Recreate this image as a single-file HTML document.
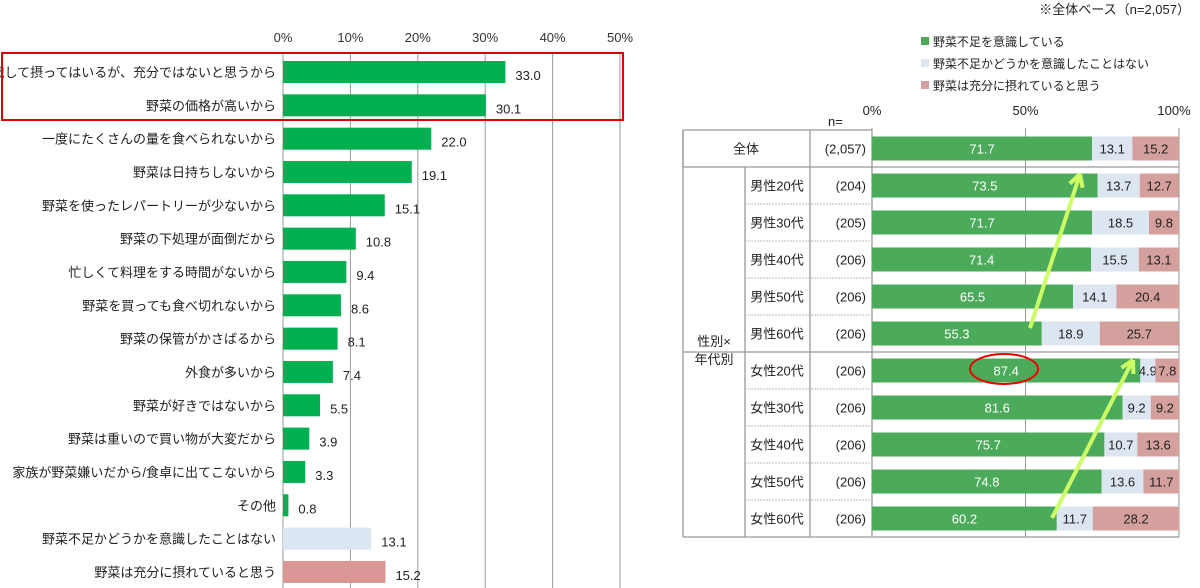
<!DOCTYPE html>
<html><head><meta charset="utf-8"><style>
body{margin:0;background:#fff;font-family:"Liberation Sans","Noto Sans CJK JP",sans-serif;}
svg{display:block}
text{font-family:"Liberation Sans","Noto Sans CJK JP",sans-serif;}
</style></head><body>
<svg width="1200" height="588" xmlns="http://www.w3.org/2000/svg">
<g id="left"></g>
<g id="right"></g>
</svg>
<script>
const leftCats=["意識して摂ってはいるが、充分ではないと思うから","野菜の価格が高いから","一度にたくさんの量を食べられないから","野菜は日持ちしないから","野菜を使ったレパートリーが少ないから","野菜の下処理が面倒だから","忙しくて料理をする時間がないから","野菜を買っても食べ切れないから","野菜の保管がかさばるから","外食が多いから","野菜が好きではないから","野菜は重いので買い物が大変だから","家族が野菜嫌いだから/食卓に出てこないから","その他","野菜不足かどうかを意識したことはない","野菜は充分に摂れていると思う"];
const leftVals=[33.0,30.1,22.0,19.1,15.1,10.8,9.4,8.6,8.1,7.4,5.5,3.9,3.3,0.8,13.1,15.2];
const leftTicks=[0,10,20,30,40,50];
const rowLabels=["全体","男性20代","男性30代","男性40代","男性50代","男性60代","女性20代","女性30代","女性40代","女性50代","女性60代"];
const rowN=["(2,057)","(204)","(205)","(206)","(206)","(206)","(206)","(206)","(206)","(206)","(206)"];
const aware=[71.7,73.5,71.7,71.4,65.5,55.3,87.4,81.6,75.7,74.8,60.2];
const never=[13.1,13.7,18.5,15.5,14.1,18.9,4.9,9.2,10.7,13.6,11.7];
const enough=[15.2,12.7,9.8,13.1,20.4,25.7,7.8,9.2,13.6,11.7,28.2];
const rightTicks=[0,50,100];
const NS="http://www.w3.org/2000/svg";
function mk(p,t,a,txt){const e=document.createElementNS(NS,t);for(const k in a)e.setAttribute(k,a[k]);if(txt!==undefined)e.textContent=txt;p.appendChild(e);return e;}
// left
const L=document.getElementById('left');
const lx=v=>283+v*6.74, ly=i=>72+i*33.33;
leftTicks.forEach(t=>{
 let g=mk(L,'line',{x1:lx(t),x2:lx(t),y1:53,y2:588,stroke:'#999','stroke-width':1});
 
 
 let tx=mk(L,'text',{x:lx(t),y:42,'font-size':13,'text-anchor':'middle',fill:'#333'},t+'%');
 
 
});
leftCats.forEach((c,i)=>{
 const col=i<14?'#00b050':(i==14?'#dce6f2':'#d99694');
 let b=mk(L,'rect',{x:lx(0),y:ly(i)-11,width:lx(leftVals[i])-lx(0),height:22,fill:col});
 
 
 let lb=mk(L,'text',{x:276,y:ly(i)+5,'font-size':13,'text-anchor':'end',fill:'#222'},c);
 
 
 let v=mk(L,'text',{x:lx(leftVals[i])+10,y:ly(i)+8,'font-size':13,fill:'#222'},leftVals[i].toFixed(1));
 
 
});
let rb=mk(L,'rect',{x:2,y:53,width:621,height:67,fill:'none',stroke:'#d00','stroke-width':2});


// right
const R=document.getElementById('right');
const rx=v=>872+v*3.07;
const rowTop=i=>i==0?130:167+(i-1)*37, rowH=i=>i==0?37:37;
let note=mk(R,'text',{x:1190,y:14,'font-size':13,'text-anchor':'end',fill:'#222'},'※全体ベース（n=2,057）');


const legItems=[["野菜不足を意識している",'#4cab5a'],["野菜不足かどうかを意識したことはない",'#dce6f0'],["野菜は充分に摂れていると思う",'#d4a09d']];
legItems.forEach((it,i)=>{
 let s=mk(R,'rect',{x:921,y:37+i*22,width:8,height:8,fill:it[1]});
 
 
 let t=mk(R,'text',{x:933,y:46+i*22,'font-size':12,fill:'#222'},it[0]);
 
 
});
let nl=mk(R,'text',{x:828,y:126,'font-size':13,fill:'#222'},'n=');


rightTicks.forEach(t=>{
 let g=mk(R,'line',{x1:rx(t),x2:rx(t),y1:128,y2:537,stroke:'#999','stroke-width':1});
 
 
 let tx=mk(R,'text',{x:rx(t)+(t==100?-5:0),y:115,'font-size':13,'text-anchor':'middle',fill:'#222'},t+'%');
 
 
});
// table lines
[[683,130,872,130],[683,167,1179,167],[683,352,1179,352],[683,537,1179,537],[683,130,683,537],[745,167,745,537],[810,130,810,537],[872,130,872,537],[683,130,683,167]].forEach(l=>{
 let e=mk(R,'line',{x1:l[0],y1:l[1],x2:l[2],y2:l[3],stroke:'#999','stroke-width':1.3});
 
 
});
for(let i=2;i<=10;i++){ if(i==6)continue;
 let e=mk(R,'line',{x1:745,y1:rowTop(i),x2:872,y2:rowTop(i),stroke:'#bbb','stroke-dasharray':'2,1'});
 
 
}
let g1=mk(R,'text',{x:714,y:346,'font-size':13,'text-anchor':'middle',fill:'#222'},'性別×');


let g2=mk(R,'text',{x:714,y:364,'font-size':13,'text-anchor':'middle',fill:'#222'},'年代別');


rowLabels.forEach((lab,i)=>{
 const cy=rowTop(i)+18.5;
 let t=mk(R,'text',{x:i==0?746:777,y:cy+5,'font-size':13,'text-anchor':'middle',fill:'#222'},lab);
 
 
 let n=mk(R,'text',{x:866,y:cy+5,'font-size':13,'text-anchor':'end',fill:'#222'},rowN[i]);
 
 
 const segs=[[aware[i],'#4cab5a','#fff'],[never[i],'#dce6f0','#222'],[enough[i],'#d4a09d','#222']];
 let acc=0;
 segs.forEach((s,k)=>{
  let r=mk(R,'rect',{x:rx(acc),y:cy-12,width:rx(acc+s[0])-rx(acc),height:24,fill:s[1]});
  
  
  let v=mk(R,'text',{x:(rx(acc)+rx(acc+s[0]))/2,y:cy+5,'font-size':13,'text-anchor':'middle',fill:s[2]},s[0].toFixed(1));
  
  
  acc+=s[0];
 });
});
// annotations
const arrows=[[1030,328,1080,174],[1052,518,1133,360]];
arrows.forEach(a=>{
 let ln=mk(R,'line',{x1:a[0],y1:a[1],x2:a[2],y2:a[3],stroke:'#ccff66','stroke-width':4});
 
 
 const ang=Math.atan2(a[3]-a[1],a[2]-a[0]);
 const h=14;
 [0.5,-0.5].forEach(d=>{
  let hd=mk(R,'line',{x1:a[2],y1:a[3],x2:a[2]-h*Math.cos(ang+d),y2:a[3]-h*Math.sin(ang+d),stroke:'#ccff66','stroke-width':4});
  
  
 });
});
let el=mk(R,'ellipse',{cx:1004,cy:369,rx:34,ry:15,fill:'none',stroke:'#e00','stroke-width':2});


</script>
</body></html>
